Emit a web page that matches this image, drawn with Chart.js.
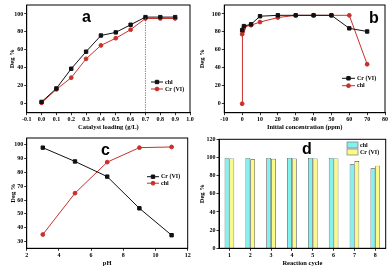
<!DOCTYPE html>
<html>
<head>
<meta charset="utf-8">
<script src="https://cdn.jsdelivr.net/npm/chart.js@4.4.1/dist/chart.umd.min.js"></script>
<style>
  html, body { margin: 0; padding: 0; background: #fff; }
  #wrap { position: relative; width: 390px; height: 267px; overflow: hidden; }
  .panel { position: absolute; }
  .tag { position: absolute; font: bold 16px "Liberation Sans", Arial, sans-serif; color: #000; line-height: 1; }
</style>
</head>
<body>
<div id="wrap">
  <div class="panel" style="left:0;top:0;width:195px;height:133px"><canvas id="chartA"></canvas></div>
  <div class="panel" style="left:195px;top:0;width:195px;height:133px"><canvas id="chartB"></canvas></div>
  <div class="panel" style="left:0;top:133px;width:195px;height:134px"><canvas id="chartC"></canvas></div>
  <div class="panel" style="left:195px;top:133px;width:195px;height:134px"><canvas id="chartD"></canvas></div>
  <div class="tag" style="left:82px;top:9px">a</div>
  <div class="tag" style="left:369px;top:10px">b</div>
  <div class="tag" style="left:101px;top:142px">c</div>
  <div class="tag" style="left:302px;top:141px">d</div>
</div>
<script>
// --- data ---
// (a) catalyst loading
const loadX = [0, 0.1, 0.2, 0.3, 0.4, 0.5, 0.6, 0.7, 0.8, 0.9];
const loadChl = [2, 17, 39, 58, 76, 79.5, 88, 96.5, 96.5, 96.5];
const loadCr = [1, 16, 29, 50, 65, 73, 82.5, 95, 95, 95];
const loadXTicks = [-0.1, 0, 0.1, 0.2, 0.3, 0.4, 0.5, 0.6, 0.7, 0.8, 0.9, 1.0];
const loadYTicks = [0, 20, 40, 60, 80, 100];
const dropX = 0.7;

// (b) initial concentration
const concCrX = [0, 1, 5, 10, 20, 30, 40, 50, 60, 70];
const concCr = [82, 86.5, 88.5, 97.5, 98.5, 98.5, 98.5, 98.5, 84, 80.5];
const concChlX = [0, 0, 0.3, 0.6, 1, 5, 10, 20, 30, 40, 50, 60, 70];
const concChl = [0, 77.5, 80.5, 83, 85.5, 87.5, 91, 96, 98.5, 98.5, 98.5, 98.5, 44];
const concXTicks = [-10, 0, 10, 20, 30, 40, 50, 60, 70, 80];
const concYTicks = [0, 20, 40, 60, 80, 100];

// (c) pH
const phX = [3, 5, 7, 9, 11];
const phCr = [98, 88, 77, 54, 34.5];
const phChl = [35, 65, 87.5, 98, 98.5];
const phXTicks = [2, 4, 6, 8, 10, 12];
const phYTicks = [30, 40, 50, 60, 70, 80, 90, 100];

// (d) reuse cycles
const cycles = ['1', '2', '3', '4', '5', '6', '7', '8'];
const cycleChl = [99.5, 99.5, 99.5, 99.5, 99.5, 99.5, 92.5, 88];
const cycleCr = [99, 98, 98.5, 99, 99, 99, 96, 91];
const cycleYTicks = [0, 20, 40, 60, 80, 100, 120];

const serif = '"Liberation Serif", "Times New Roman", serif';
Chart.defaults.font.family = serif;
Chart.defaults.font.size = 6;
Chart.defaults.font.weight = 'bold';
Chart.defaults.color = '#000';
Chart.defaults.animation = false;

const RED = '#c8302c';
const BLACK = '#111';

// box around plot area
const frame = {
    id: 'frame',
    afterDraw(chart) {
        const { ctx, chartArea: a } = chart;
        ctx.save();
        ctx.strokeStyle = '#000';
        ctx.lineWidth = 1;
        ctx.strokeRect(a.left, a.top, a.right - a.left, a.bottom - a.top);
        ctx.restore();
    }
};

// legend drawn inside the plot
const insideLegend = {
    id: 'insideLegend',
    afterDraw(chart, args, opts) {
        if (opts.x == null) return;
        const ctx = chart.ctx;
        ctx.save();
        ctx.font = 'bold 6px ' + serif;
        ctx.textBaseline = 'middle';
        chart.data.datasets.forEach((ds, i) => {
            const y = opts.y + i * opts.gap;
            if (opts.patch) {
                ctx.fillStyle = ds.backgroundColor;
                ctx.fillRect(opts.x, y - 3, opts.len, 6);
                ctx.strokeStyle = '#666';
                ctx.lineWidth = 0.6;
                ctx.strokeRect(opts.x, y - 3, opts.len, 6);
            } else {
                ctx.strokeStyle = ds.borderColor;
                ctx.lineWidth = 1;
                ctx.beginPath();
                ctx.moveTo(opts.x, y);
                ctx.lineTo(opts.x + opts.len, y);
                ctx.stroke();
                ctx.fillStyle = ds.pointBackgroundColor;
                ctx.strokeStyle = ds.pointBorderColor;
                Chart.helpers.drawPoint(ctx, { pointStyle: ds.pointStyle, radius: ds.pointRadius, borderWidth: 0.5, rotation: 0 }, opts.x + opts.len / 2, y);
            }
            ctx.fillStyle = '#000';
            ctx.fillText(ds.label, opts.x + opts.len + 2, y);
        });
        ctx.restore();
    }
};

// dotted drop line in (a)
const dropLine = {
    id: 'dropLine',
    afterDatasetsDraw(chart, args, opts) {
        if (opts.x == null) return;
        const { ctx, scales } = chart;
        const x = scales.x.getPixelForValue(opts.x);
        ctx.save();
        ctx.strokeStyle = '#555';
        ctx.lineWidth = 0.8;
        ctx.setLineDash([1.2, 1.2]);
        ctx.beginPath();
        ctx.moveTo(x, chart.chartArea.bottom);
        ctx.lineTo(x, scales.y.getPixelForValue(opts.y));
        ctx.stroke();
        ctx.restore();
    }
};

function lineSet(label, xs, ys, color, style) {
    return {
        label,
        data: xs.map((x, i) => ({ x, y: ys[i] })),
        borderColor: color,
        backgroundColor: color,
        pointBackgroundColor: color,
        pointBorderColor: color,
        pointStyle: style,
        pointRadius: style === 'rect' ? 2.4 : 1.9,
        borderWidth: 1,
        tension: 0
    };
}

function axis(opts) {
    const { min, max, ticks, fmt, title, size, horizontal, titlePad } = opts;
    return {
        type: 'linear',
        min, max,
        afterBuildTicks: s => { s.ticks = ticks.map(v => ({ value: v })); },
        afterFit: s => {
            if (horizontal) s.height = size; else s.width = size;
            s.paddingTop = 0; s.paddingBottom = 0; s.paddingLeft = 0; s.paddingRight = 0;
        },
        grid: { display: true, drawOnChartArea: false, drawTicks: true, tickLength: 2.5, color: '#000', lineWidth: 0.8 },
        border: { display: true, color: '#000', width: 1 },
        ticks: { padding: 1, maxRotation: 0, autoSkip: false, callback: fmt || (v => v), font: { size: 6, weight: 'bold' } },
        title: { display: true, text: title, font: { size: 6.5, weight: 'bold' }, padding: titlePad }
    };
}

function lineChart(id, datasets, o) {
    return new Chart(document.getElementById(id), {
        type: 'line',
        data: { datasets },
        options: {
            responsive: true,
            maintainAspectRatio: false,
            layout: { padding: o.pad },
            plugins: {
                legend: { display: false },
                tooltip: { enabled: false },
                insideLegend: o.legend,
                dropLine: o.drop || {}
            },
            scales: { x: o.x, y: o.y }
        },
        plugins: [frame, insideLegend, dropLine]
    });
}

// (a)
lineChart('chartA', [
    lineSet('chl', loadX, loadChl, BLACK, 'rect'),
    lineSet('Cr (VI)', loadX, loadCr, RED, 'circle')
], {
    pad: { top: 1.7, right: 4.3, left: 0, bottom: 0 },
    x: axis({ min: -0.1, max: 1.0, ticks: loadXTicks, fmt: v => v.toFixed(1), title: 'Catalyst loading (g/L)', size: 20.3, horizontal: true, titlePad: { top: 0, bottom: 1.6 } }),
    y: axis({ min: -10, max: 110, ticks: loadYTicks, title: 'Deg %', size: 26.7, titlePad: { top: 8, bottom: 0 } }),
    legend: { x: 151, y: 82, gap: 7, len: 12 },
    drop: { x: dropX, y: loadChl[loadX.indexOf(dropX)] }
});

// (b)
lineChart('chartB', [
    lineSet('Cr (VI)', concCrX, concCr, BLACK, 'rect'),
    lineSet('chl', concChlX, concChl, RED, 'circle')
], {
    pad: { top: 1.7, right: 4.3, left: 0, bottom: 0 },
    x: axis({ min: -10, max: 80, ticks: concXTicks, title: 'Initial concentration (ppm)', size: 20.3, horizontal: true, titlePad: { top: 0, bottom: 1.6 } }),
    y: axis({ min: -10, max: 110, ticks: concYTicks, title: 'Deg %', size: 29.3, titlePad: { top: 3, bottom: 0 } }),
    legend: { x: 147, y: 78.3, gap: 7.4, len: 13 }
});

// (c)
lineChart('chartC', [
    lineSet('Cr (VI)', phX, phCr, BLACK, 'rect'),
    lineSet('chl', phX, phChl, RED, 'circle')
], {
    pad: { top: 5, right: 7.3, left: 0, bottom: 0 },
    x: axis({ min: 2, max: 12, ticks: phXTicks, title: 'pH', size: 18.7, horizontal: true, titlePad: { top: 0, bottom: 0 } }),
    y: axis({ min: 25, max: 105, ticks: phYTicks, title: 'Deg %', size: 26.7, titlePad: { top: 9, bottom: 0 } }),
    legend: { x: 147, y: 43.7, gap: 6.5, len: 12 }
});

// (d)
const dY = axis({ min: 0, max: 120, ticks: cycleYTicks, title: 'Deg %', size: 24, titlePad: { top: 3, bottom: 0 } });
new Chart(document.getElementById('chartD'), {
    type: 'bar',
    data: {
        labels: cycles,
        datasets: [
            { label: 'chl', data: cycleChl, backgroundColor: '#82f2ef', borderColor: '#3a3a3a', borderWidth: 0.7 },
            { label: 'Cr (VI)', data: cycleCr, backgroundColor: '#fafa8a', borderColor: '#3a3a3a', borderWidth: 0.7 }
        ]
    },
    options: {
        responsive: true,
        maintainAspectRatio: false,
        layout: { padding: { top: 6.3, right: 4.3, left: 0, bottom: 0 } },
        datasets: { bar: { categoryPercentage: 0.46, barPercentage: 1.0 } },
        plugins: {
            legend: { display: false },
            tooltip: { enabled: false },
            insideLegend: { x: 152, y: 12, gap: 7, len: 11, patch: true }
        },
        scales: {
            x: {
                type: 'category',
                afterFit: s => { s.height = 18.7; s.paddingLeft = 0; s.paddingRight = 0; },
                grid: { display: true, offset: false, drawOnChartArea: false, tickLength: 2.5, color: '#000', lineWidth: 0.8 },
                border: { display: true, color: '#000', width: 1 },
                ticks: { padding: 1, maxRotation: 0, font: { size: 6, weight: 'bold' } },
                title: { display: true, text: 'Reaction cycle', font: { size: 6.5, weight: 'bold' }, padding: { top: 0, bottom: 0 } }
            },
            y: dY
        }
    },
    plugins: [frame, insideLegend]
});
</script>
</body>
</html>
